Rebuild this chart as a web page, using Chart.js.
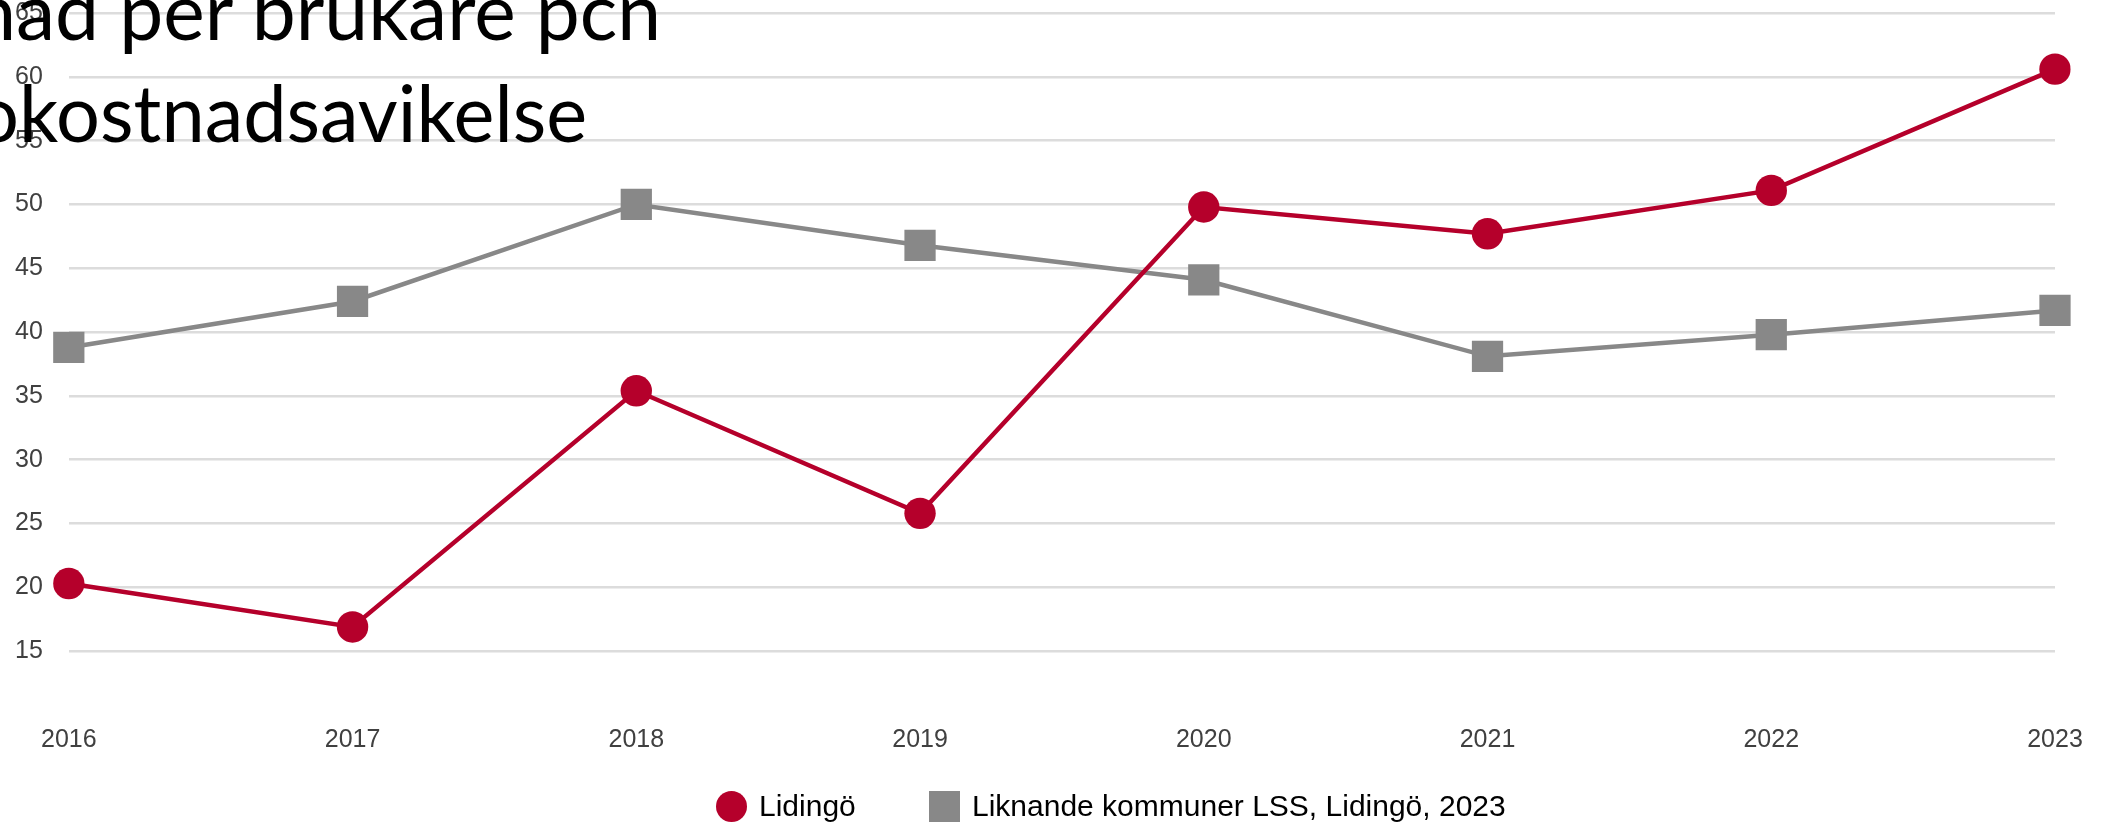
<!DOCTYPE html>
<html>
<head>
<meta charset="utf-8">
<script src="https://cdn.jsdelivr.net/npm/chart.js@4.4.1/dist/chart.umd.min.js"></script>
<style>
  html, body { margin: 0; padding: 0; background: #fff; }
  #wrap { position: relative; width: 2108px; height: 826px; overflow: hidden; }
  #chart { position: absolute; left: 0; top: 0; }
  .title { position: absolute; top: 0; white-space: nowrap; font-family: Lato, 'Open Sans', sans-serif;
           font-size: 80px; line-height: 1; color: #000; transform-origin: right center; }
  .bl { display: inline-block; width: 0; height: 0; }
  .item { position: absolute; top: 786px; height: 40px; display: flex; align-items: center; white-space: nowrap;
          font-family: 'Liberation Sans', Arial, sans-serif; font-size: 30px; color: #000; }
  .mark { width: 31px; height: 31px; margin-right: 12px; flex: none; }
</style>
</head>
<body>
<div id="wrap">
  <canvas id="chart" width="2108" height="826"></canvas>
  <div class="title" id="t1">Kostn<span id="m1">ad per brukare pcn</span><span class="bl" id="b1"></span></div>
  <div class="title" id="t2">Netto<span id="m2">kostnadsavikelse</span><span class="bl" id="b2"></span></div>
  <div id="legend"></div>
</div>
<script>
// data
const years = ['2016', '2017', '2018', '2019', '2020', '2021', '2022', '2023'];
const seriesNames = ['Lidingö', 'Liknande kommuner LSS, Lidingö, 2023'];
const lidingo = [20.3, 16.9, 35.4, 25.8, 49.8, 47.7, 51.1, 60.6];
const liknande = [38.8, 42.4, 50.0, 46.8, 44.1, 38.1, 39.8, 41.7];
// axis runs down to 10, but the 10 line and label are not shown
const yMin = 10, yMax = 65, yStep = 5, yHidden = 10;

const RED = '#b5002b';
const GREY = '#888888';
const tickFont = { family: "'Liberation Sans', Arial, sans-serif", size: 25, lineHeight: 1 };

const ctx = document.getElementById('chart').getContext('2d');
new Chart(ctx, {
  type: 'line',
  data: {
    labels: years,
    datasets: [
      {
        label: seriesNames[0], data: lidingo,
        borderColor: RED, backgroundColor: RED, borderWidth: 4.5,
        pointStyle: 'circle', pointRadius: 15.7, pointBorderWidth: 0,
        pointBackgroundColor: RED, tension: 0
      },
      {
        label: seriesNames[1], data: liknande,
        borderColor: GREY, backgroundColor: GREY, borderWidth: 4.5,
        pointStyle: 'rect', pointRadius: 22.1, pointBorderWidth: 0,
        pointBackgroundColor: GREY, tension: 0
      }
    ]
  },
  options: {
    responsive: false,
    animation: false,
    layout: { autoPadding: false, padding: { left: 15, right: 53, top: 13, bottom: 60 } },
    plugins: {
      legend: { display: false },
      tooltip: { enabled: false }
    },
    scales: {
      x: {
        offset: false,
        grid: { display: false, drawTicks: false },
        border: { display: false },
        ticks: { padding: 13, maxRotation: 0, autoSkip: false, color: '#404040', font: tickFont }
      },
      y: {
        min: yMin, max: yMax,
        grid: {
          color: (c) => (c.tick && c.tick.value === yHidden) ? 'rgba(0,0,0,0)' : '#dcdcdc',
          lineWidth: 2.5, drawTicks: true, tickLength: 26, tickColor: 'rgba(0,0,0,0)'
        },
        border: { display: false },
        ticks: {
          stepSize: yStep, padding: 0, color: '#404040', font: tickFont,
          callback: (v) => v === yHidden ? '' : v
        }
      }
    }
  }
});

// legend
const legend = document.getElementById('legend');
const legendItems = [
  { left: 716, color: RED, round: true },
  { left: 929, color: GREY, round: false }
];
legendItems.forEach((it, i) => {
  const d = document.createElement('div');
  d.className = 'item';
  d.style.left = it.left + 'px';
  const m = document.createElement('div');
  m.className = 'mark';
  m.style.background = it.color;
  if (it.round) m.style.borderRadius = '50%';
  d.appendChild(m);
  d.appendChild(document.createTextNode(seriesNames[i]));
  legend.appendChild(d);
});

// title lines, cropped at the left edge like the source
function placeTitle(id, markId, blId, visLeft, rightX, baseY) {
  const el = document.getElementById(id);
  const vis = document.getElementById(markId);
  const s = (rightX - visLeft) / vis.getBoundingClientRect().width;
  el.style.right = (2108 - rightX) + 'px';
  el.style.transform = 'scaleX(' + s + ')';
  const wrapTop = document.getElementById('wrap').getBoundingClientRect().top;
  const base = document.getElementById(blId).getBoundingClientRect().top - wrapTop;
  el.style.top = (baseY - base) + 'px';
}
document.fonts.ready.then(() => {
  placeTitle('t1', 'm1', 'b1', 15.6, 660.7, 40);
  placeTitle('t2', 'm2', 'b2', 18.7, 587, 142);
});
</script>
</body>
</html>
